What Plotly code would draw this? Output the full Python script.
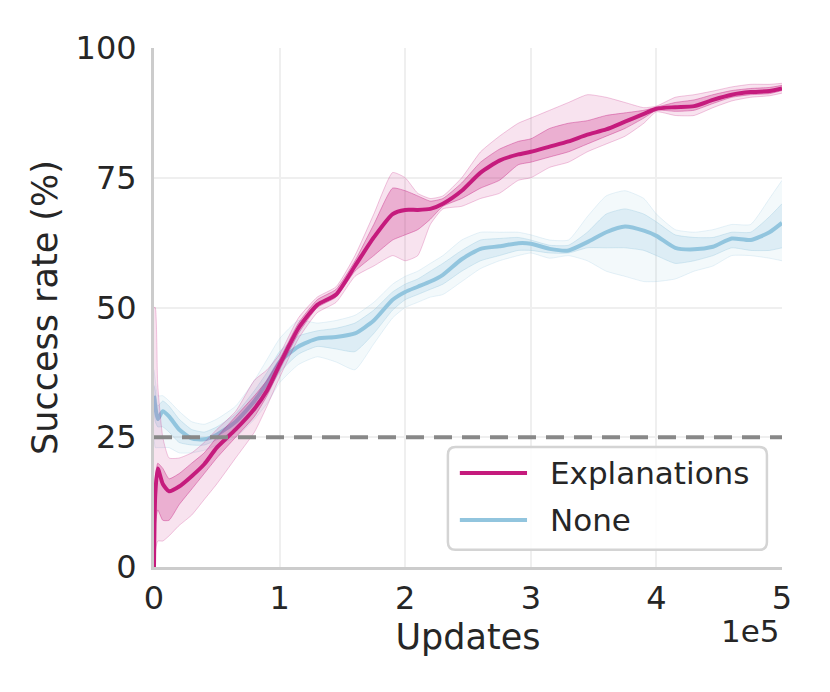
import plotly.graph_objects as go

# x positions in units of 1e5 updates
updates = [0, 0.01, 0.03, 0.07, 0.12, 0.2, 0.3, 0.4, 0.5, 0.65, 0.8, 0.9, 1.0, 1.15, 1.3,
           1.45, 1.6, 1.75, 1.9, 2.0, 2.1, 2.2, 2.3, 2.45, 2.6, 2.75, 2.9, 3.0, 3.15, 3.3,
           3.45, 3.6, 3.75, 3.9, 4.0, 4.15, 4.3, 4.45, 4.6, 4.75, 4.9, 5.0]

# Explanations: mean, inner band, outer band
expl_mean = [0, 14, 19, 16, 14.6, 15.5, 17.5, 19.8, 23, 26.5, 30.5, 34, 39, 46, 50.5,
             52.5, 58, 63.5, 68, 68.8, 68.8, 69, 70, 72.5, 76, 78.3, 79.5, 80, 81, 82,
             83.3, 84.3, 85.8, 87.3, 88.3, 88.6, 88.8, 90, 91, 91.5, 91.7, 92.2]
expl_in_lo = [0, 8, 11, 9, 9, 12, 15, 18, 21, 25, 29, 33, 38, 45, 50,
              52, 57, 60, 63, 64, 65, 67, 69.5, 71, 73, 74.5, 77.5, 78, 79, 80,
              81.5, 83, 84.5, 86.5, 88, 87.8, 88, 89.3, 90.5, 91, 91.2, 91.8]
expl_in_hi = [5, 17, 20, 19, 17, 18, 20, 22, 25, 29, 33, 36, 40, 47, 51.5,
              53.5, 59, 66, 73, 72.5, 71.5, 70.5, 71, 74, 78, 80.5, 82, 82.5, 84.5, 85.5,
              86, 87, 87.5, 88, 88.6, 89.5, 90, 91, 91.8, 92.2, 92.4, 92.8]
expl_out_lo = [0, 3, 5, 5, 6, 8, 10, 13, 16, 21, 26, 31, 36.5, 44, 49,
               51, 56, 58, 60, 59, 60, 66, 69, 69.5, 71, 72, 74.5, 75, 77, 78,
               80, 81.5, 83, 85.5, 87.7, 87, 87, 88.5, 89.8, 90.5, 90.8, 91.3]
expl_out_hi = [50, 50, 35, 25, 21, 21, 22, 24, 26.5, 30, 36, 38, 41, 48, 52,
               54, 60, 68, 76, 75, 72, 71, 71.5, 75, 80, 83, 85.5, 86.5, 88, 89.5,
               91, 90.5, 89.5, 88.5, 88.8, 90.5, 91, 91.7, 92.5, 93, 93, 93.2]

# None: mean, inner band, outer band
none_mean = [33, 31, 28.5, 30, 29, 26.5, 24.8, 24.6, 25.5, 28, 32, 35.5, 39.5, 42.5, 44,
             44.3, 45, 47.5, 51.5, 53, 54, 55, 56.3, 59.3, 61.3, 61.8, 62.4, 62.3, 61.3, 61,
             62.6, 64.5, 65.6, 64.8, 63.8, 61.5, 61.2, 61.7, 63.3, 63, 64.5, 66.3]
none_in_lo = [30, 28, 27, 27, 26, 24, 23.5, 23.5, 24.5, 26.5, 30, 33.5, 37.5, 41, 42.5,
              42, 41.5, 45, 49.5, 51.5, 52.5, 53.5, 54.5, 57, 59, 60, 61, 61, 60.5, 60.5,
              61.5, 61.5, 61.5, 61, 60, 58.5, 59, 60, 61.5, 61, 61, 61.5]
none_in_hi = [35, 34, 31, 32, 31, 28.5, 26.5, 26, 27, 29.5, 34, 37.5, 41.5, 44.5, 45.5,
              46, 47, 49.5, 53, 54.5, 55.5, 57, 58.5, 61, 63, 63.3, 63.5, 63, 62, 62,
              64.5, 68, 69, 68, 66.5, 64, 63.5, 63.5, 64.5, 64.5, 67.5, 70]
none_out_lo = [25, 23, 23, 23, 23, 22, 22, 22.5, 23.5, 25, 28.5, 31.5, 35.5, 39, 40.5,
               39.5, 38, 43, 48, 50, 51, 52, 52.5, 55, 57.5, 59, 60, 60.5, 59.5, 60,
               59, 57, 56, 55, 55, 55.5, 57, 58, 60, 60, 59.5, 59]
none_out_hi = [38, 36, 33, 33, 32, 30, 28, 27.5, 28.5, 31, 36, 40, 44, 47.5, 47,
               47.5, 48.5, 51, 54.5, 56, 57, 58.5, 60, 63, 64.5, 64.5, 64.5, 64, 63, 63,
               67.5, 71.5, 72.5, 71, 68, 65, 64.5, 65, 66, 66, 71, 74.5]

chance_level = 25
legend_names = ["Explanations", "None"]

PINK = (197, 27, 125)
BLUE = (146, 197, 222)


def rgba(c, a):
    return f"rgba({c[0]},{c[1]},{c[2]},{a})"


def band_line(col, a):
    return dict(color=rgba(col, a), width=1, shape="spline", smoothing=0.5)


def add_series(fig, name, mean, in_lo, in_hi, out_lo, out_hi, col, alphas):
    a_out, a_in = alphas
    # outer band
    fig.add_trace(go.Scatter(x=updates, y=out_lo, mode="lines", line=band_line(col, a_out * 2),
                             showlegend=False, hoverinfo="skip"))
    fig.add_trace(go.Scatter(x=updates, y=out_hi, mode="lines", line=band_line(col, a_out * 2),
                             fill="tonexty", fillcolor=rgba(col, a_out), showlegend=False, hoverinfo="skip"))
    # inner band
    fig.add_trace(go.Scatter(x=updates, y=in_lo, mode="lines", line=band_line(col, a_in * 1.5),
                             showlegend=False, hoverinfo="skip"))
    fig.add_trace(go.Scatter(x=updates, y=in_hi, mode="lines", line=band_line(col, a_in * 1.5),
                             fill="tonexty", fillcolor=rgba(col, a_in), showlegend=False, hoverinfo="skip"))
    fig.add_trace(go.Scatter(x=updates, y=mean, mode="lines", name=name, showlegend=False,
                             line=dict(color=rgba(col, 1), width=4, shape="spline", smoothing=0.6)))


fig = go.Figure()
add_series(fig, "None", none_mean, none_in_lo, none_in_hi, none_out_lo, none_out_hi, BLUE, (0.11, 0.22))
add_series(fig, "Explanations", expl_mean, expl_in_lo, expl_in_hi, expl_out_lo, expl_out_hi, PINK, (0.12, 0.26))

fig.add_shape(type="line", xref="paper", x0=0, x1=1, yref="y", y0=chance_level, y1=chance_level,
              line=dict(color="#888888", width=4, dash="18px,10px"), layer="above")

# legend box drawn by hand so the sample lines are as long as in the original
x0, x1, y0, y1 = 0.468, 0.976, 0.033, 0.231
rx, ry = 0.012, 0.015
box = (f"M {x0+rx},{y0} L {x1-rx},{y0} Q {x1},{y0} {x1},{y0+ry} L {x1},{y1-ry} "
       f"Q {x1},{y1} {x1-rx},{y1} L {x0+rx},{y1} Q {x0},{y1} {x0},{y1-ry} "
       f"L {x0},{y0+ry} Q {x0},{y0} {x0+rx},{y0} Z")
fig.add_shape(type="path", path=box, xref="paper", yref="paper", fillcolor="rgba(255,255,255,0.85)",
              line=dict(color="#d4d4d4", width=2.5), layer="above")
for i, (name, col) in enumerate(zip(legend_names, [PINK, BLUE])):
    ly = 0.181 - i * 0.0905
    fig.add_shape(type="line", xref="paper", yref="paper", x0=0.487, x1=0.594, y0=ly, y1=ly,
                  line=dict(color=rgba(col, 1), width=4), layer="above")
    fig.add_annotation(text=name, xref="paper", yref="paper", x=0.628, y=ly, xanchor="left",
                       yanchor="middle", showarrow=False, font=dict(size=31, color="#262626"))

fig.add_annotation(text="1e5", xref="paper", yref="paper", x=1.0, y=-0.085, xanchor="right",
                   yanchor="top", showarrow=False, font=dict(size=31, color="#262626"))

fig.update_layout(
    width=822, height=684,
    margin=dict(l=146, r=48, t=40, b=125),
    paper_bgcolor="white", plot_bgcolor="white",
    font=dict(family="DejaVu Sans", size=32, color="#262626"),
    showlegend=False,
    xaxis=dict(range=[0, 5], tickvals=[0, 1, 2, 3, 4, 5], showgrid=True, gridcolor="#efefef",
               gridwidth=2, zeroline=False, showline=True, linecolor="#cccccc", linewidth=3,
               ticks="outside", ticklen=1, tickcolor="white",
               title=dict(text="Updates", font=dict(size=35), standoff=0)),
    yaxis=dict(range=[0, 100], tickvals=[0, 25, 50, 75, 100], showgrid=True, gridcolor="#efefef",
               gridwidth=2, zeroline=False, showline=True, linecolor="#cccccc", linewidth=3,
               ticks="outside", ticklen=8, tickcolor="white",
               title=dict(text="Success rate (%)", font=dict(size=35), standoff=8)),
)

fig.write_html("out.html")
